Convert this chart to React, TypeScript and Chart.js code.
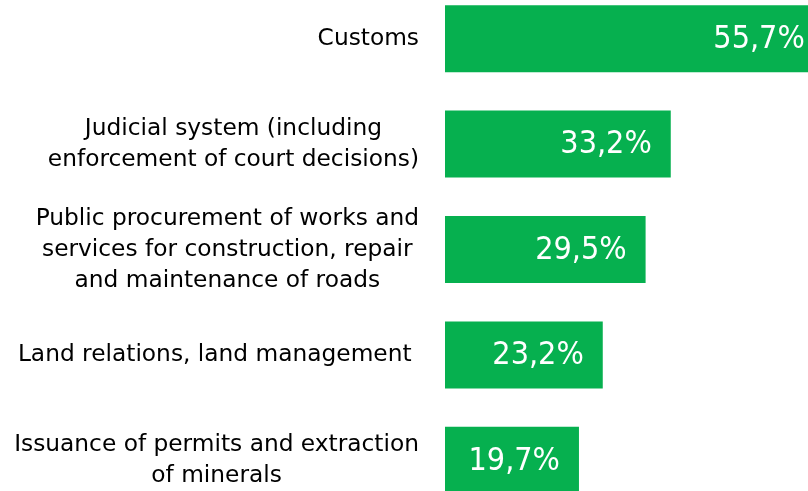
import React, { useEffect, useRef } from "react";
import { Chart, registerables } from "chart.js";

Chart.register(...registerables);

const categories: string[][] = [
  ["Customs"],
  ["Judicial system (including", "enforcement of court decisions)"],
  ["Public procurement of works and", "services for construction, repair", "and maintenance of roads"],
  ["Land relations, land management "],
  ["Issuance of permits and extraction", "of minerals"],
];
const values: number[] = [55.7, 33.2, 29.5, 23.2, 19.7];
const valueLabels: string[] = ["55,7%", "33,2%", "29,5%", "23,2%", "19,7%"];

const BAR_COLOR = "#06B04F";
const FONT = '"DejaVu Sans", sans-serif';
const VALUE_FONT = '"DejaVu Sans Condensed", "DejaVu Sans", sans-serif';
const LABEL_SIZE = 23.3;
const LABEL_LINE = 31;
const VALUE_SIZE = 32;
const LABEL_RIGHT = 419;

const labelsPlugin = {
  id: "customLabels",
  afterDatasetsDraw(chart: any) {
    const ctx = chart.ctx as CanvasRenderingContext2D;
    const yScale = chart.scales.y;
    ctx.save();
    ctx.font = `${LABEL_SIZE}px ${FONT}`;
    ctx.fillStyle = "#000000";
    ctx.textAlign = "center";
    ctx.textBaseline = "middle";
    categories.forEach((lines, i) => {
      const cy = yScale.getPixelForValue(i);
      const maxW = Math.max(...lines.map((l) => ctx.measureText(l).width));
      const cx = LABEL_RIGHT - maxW / 2;
      const top = cy - ((lines.length - 1) * LABEL_LINE) / 2;
      lines.forEach((l, j) => ctx.fillText(l, cx, top + j * LABEL_LINE));
    });
    ctx.font = `${VALUE_SIZE}px ${VALUE_FONT}`;
    ctx.fillStyle = "#FFFFFF";
    ctx.textAlign = "right";
    const meta = chart.getDatasetMeta(0);
    meta.data.forEach((bar: any, i: number) => {
      ctx.fillText(valueLabels[i], bar.x - 19, bar.y + 1);
    });
    ctx.restore();
  },
};

export default function App() {
  const ref = useRef<HTMLCanvasElement | null>(null);
  useEffect(() => {
    if (!ref.current) return;
    const chart = new Chart(ref.current, {
      type: "bar",
      data: {
        labels: categories.map((c) => c.join(" ")),
        datasets: [
          {
            data: values,
            backgroundColor: BAR_COLOR,
            borderWidth: 0,
            barPercentage: 0.636,
            categoryPercentage: 1,
          },
        ],
      },
      options: {
        indexAxis: "y",
        responsive: false,
        animation: false,
        layout: { padding: { left: 445, right: 0, top: 0, bottom: 0 } },
        plugins: { legend: { display: false }, tooltip: { enabled: false } },
        scales: {
          x: { display: false, min: 0, max: 60, grid: { display: false } },
          y: { display: false, grid: { display: false } },
        },
      },
      plugins: [labelsPlugin],
    });
    return () => chart.destroy();
  }, []);
  return (
    <div
      style={{
        position: "fixed",
        left: 0,
        top: 0,
        width: 808,
        height: 491,
        overflow: "hidden",
        background: "#fff",
      }}
    >
      <canvas
        ref={ref}
        width={853}
        height={527}
        style={{ position: "absolute", left: 0, top: -14, width: 853, height: 527 }}
      />
    </div>
  );
}
